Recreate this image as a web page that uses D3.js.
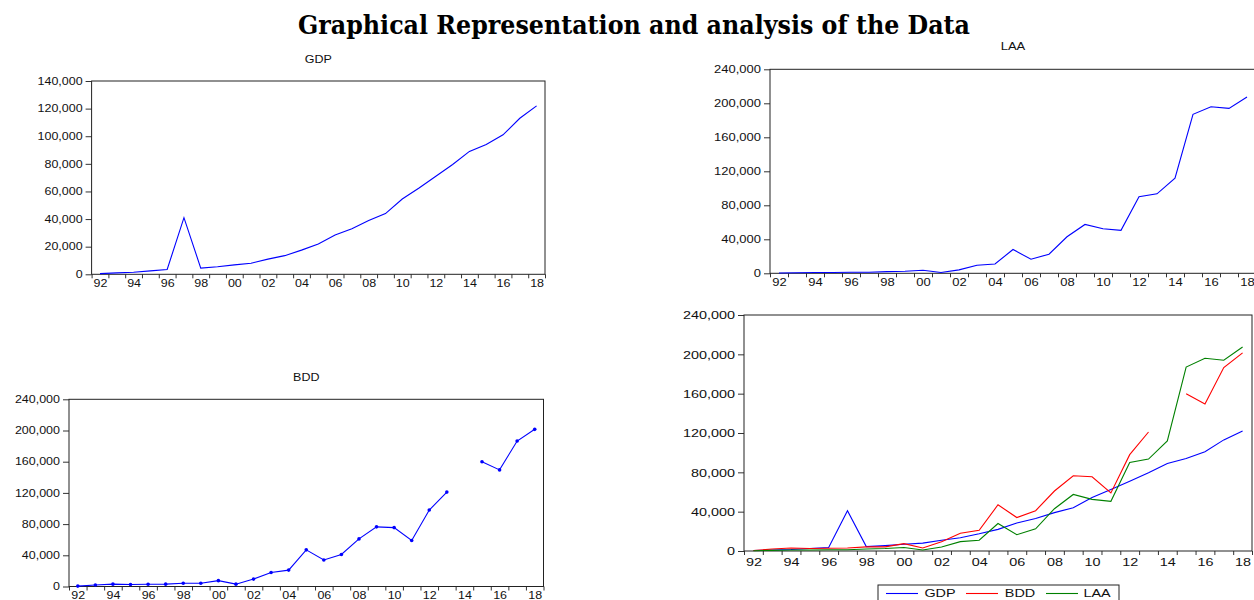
<!DOCTYPE html>
<html><head><meta charset="utf-8">
<script src="https://cdn.jsdelivr.net/npm/d3@7"></script>
<style>body{margin:0;background:#fff} svg{display:block}</style>
</head><body><svg id="c" width="1254" height="600"></svg>
<script>
// ---------- data ----------
const years = [1992,1993,1994,1995,1996,1997,1998,1999,2000,2001,2002,2003,2004,2005,2006,2007,2008,2009,2010,2011,2012,2013,2014,2015,2016,2017,2018];
const tickYears = [1992,1994,1996,1998,2000,2002,2004,2006,2008,2010,2012,2014,2016,2018];
const gdp = [500,1000,1500,2500,3500,41000,4500,5500,6800,8000,11000,13500,17500,22000,28500,33000,39000,44000,54500,62500,71000,79500,89000,94000,101000,113000,122000];
const bdd = [500,2000,3000,2500,2800,3000,4200,4200,7500,3000,9500,18000,21000,47000,34000,41000,61000,76500,75500,59000,98000,121000,null,160000,149500,186500,201500];
const laa = [300,600,1000,1000,1200,1300,2000,2500,3500,1000,4000,9500,11000,28000,16500,22500,43000,57500,52500,50500,90000,93500,112000,187000,196000,194000,207500];
const seriesNames = ["GDP","BDD","LAA"];
const yTicksGDP = [0,20000,40000,60000,80000,100000,120000,140000];
const yTicks240 = [0,40000,80000,120000,160000,200000,240000];
const chartTitle = "Graphical Representation and analysis of the Data";

// ---------- drawing ----------
const svg = d3.select("#c");
const fmt = d3.format(",");
const yr = d => String(d).slice(2);
const colors = {GDP:"#0000ff", BDD:"#ff0000", LAA:"#008000"};
const textCol = "#111";
const n = years.length;

svg.append("text")
  .attr("x", 634).attr("y", 34)
  .attr("text-anchor","middle")
  .attr("font-family","DejaVu Serif, serif")
  .attr("font-weight","bold")
  .attr("font-size",26)
  .attr("textLength",672).attr("lengthAdjust","spacingAndGlyphs")
  .attr("fill","#000")
  .text(chartTitle);

function panel(cfg){
  const g = svg.append("g");
  const x = d3.scalePoint().domain(years).range([cfg.left,cfg.right]).padding(0.5);
  const xb = d3.scaleLinear().domain([0,n]).range([cfg.left,cfg.right]);
  const y = d3.scaleLinear().domain([0,cfg.yMax]).range([cfg.bottom,cfg.top]);
  const fs = cfg.fs, sx = cfg.sx;

  const ya = g.append("g").attr("transform",`translate(${cfg.left},0)`)
    .call(d3.axisLeft(y).tickValues(cfg.yTicks).tickSize(6).tickPadding(3).tickFormat(fmt));
  ya.select(".domain").remove();
  ya.selectAll("line").attr("stroke","#333");
  ya.selectAll("text").attr("font-family","Liberation Sans, Arial, sans-serif")
    .attr("font-size",fs).attr("fill",textCol)
    .attr("x",-9/sx).attr("transform",`scale(${sx},1)`);

  const xt = g.append("g").attr("transform",`translate(0,${cfg.bottom})`)
    .call(d3.axisBottom(xb).tickValues(d3.range(n+1)).tickSize(4).tickFormat(""));
  xt.select(".domain").remove();
  xt.selectAll("line").attr("stroke","#333");

  const xl = g.append("g").attr("transform",`translate(0,${cfg.bottom})`)
    .call(d3.axisBottom(x).tickValues(tickYears).tickSize(0).tickPadding(cfg.xPad).tickFormat(yr));
  xl.select(".domain").remove();
  xl.selectAll("text").attr("font-family","Liberation Sans, Arial, sans-serif")
    .attr("font-size",fs).attr("fill",textCol).attr("transform",`scale(${sx},1)`)
    .attr("x",0);

  g.append("rect").attr("x",cfg.left).attr("y",cfg.top)
    .attr("width",cfg.right-cfg.left).attr("height",cfg.bottom-cfg.top)
    .attr("fill","none").attr("stroke","#222").attr("stroke-width",1);

  const line = d3.line().defined(d=>d!=null).x((d,i)=>x(years[i])).y(d=>y(d));
  cfg.series.forEach(s=>{
    g.append("path").datum(s.values).attr("d",line)
      .attr("fill","none").attr("stroke",s.color).attr("stroke-width",1.1);
    if(s.markers){
      g.selectAll(null).data(s.values.map((v,i)=>({v,i})).filter(d=>d.v!=null))
        .enter().append("circle")
        .attr("cx",d=>x(years[d.i])).attr("cy",d=>y(d.v)).attr("r",1.8)
        .attr("fill",s.color);
    }
  });

  if(cfg.title){
    const cx = (cfg.left+cfg.right)/2;
    g.append("text").attr("x",cx).attr("y",cfg.titleY)
      .attr("text-anchor","middle").attr("dominant-baseline","middle")
      .attr("font-family","Liberation Sans, Arial, sans-serif").attr("font-size",fs)
      .attr("fill",textCol)
      .attr("transform",`translate(${cx*(1-sx)},0) scale(${sx},1)`)
      .text(cfg.title);
  }
  return {x,y,g};
}

panel({left:91.6,right:545,top:81,bottom:274.3,yMax:140000,yTicks:yTicksGDP,fs:10,sx:1.25,xPad:6,
  title:"GDP",titleY:60,series:[{values:gdp,color:colors.GDP}]});
panel({left:770,right:1256,top:69.3,bottom:273.3,yMax:240000,yTicks:yTicks240,fs:10,sx:1.3,xPad:6,
  title:"LAA",titleY:47,series:[{values:laa,color:colors.GDP}]});
panel({left:69,right:543.5,top:399.3,bottom:586.5,yMax:240000,yTicks:yTicks240,fs:10,sx:1.25,xPad:5,
  title:"BDD",titleY:378,series:[{values:bdd,color:colors.GDP,markers:true}]});
panel({left:744,right:1252,top:315,bottom:551,yMax:240000,yTicks:yTicks240,fs:11.8,sx:1.22,xPad:7,
  title:null,series:[
    {values:gdp,color:colors.GDP},
    {values:bdd,color:colors.BDD},
    {values:laa,color:colors.LAA}]});

// legend
const lg = svg.append("g");
lg.append("rect").attr("x",878).attr("y",585).attr("width",241).attr("height",30)
  .attr("fill","#fff").attr("stroke","#222");
const legendPos = [{x1:886,x2:918,tx:940},{x1:966,x2:998,tx:1020},{x1:1046,x2:1078,tx:1097}];
seriesNames.forEach((nm,i)=>{
  const p = legendPos[i];
  lg.append("line").attr("x1",p.x1).attr("x2",p.x2).attr("y1",593.5).attr("y2",593.5)
    .attr("stroke",colors[nm]).attr("stroke-width",1.1);
  lg.append("text").attr("x",p.tx).attr("y",593.5).attr("text-anchor","middle")
    .attr("dominant-baseline","middle")
    .attr("font-family","Liberation Sans, Arial, sans-serif").attr("font-size",11.8)
    .attr("fill",textCol)
    .attr("transform",`translate(${p.tx*(1-1.22)},0) scale(1.22,1)`)
    .text(nm);
});
</script></body></html>
